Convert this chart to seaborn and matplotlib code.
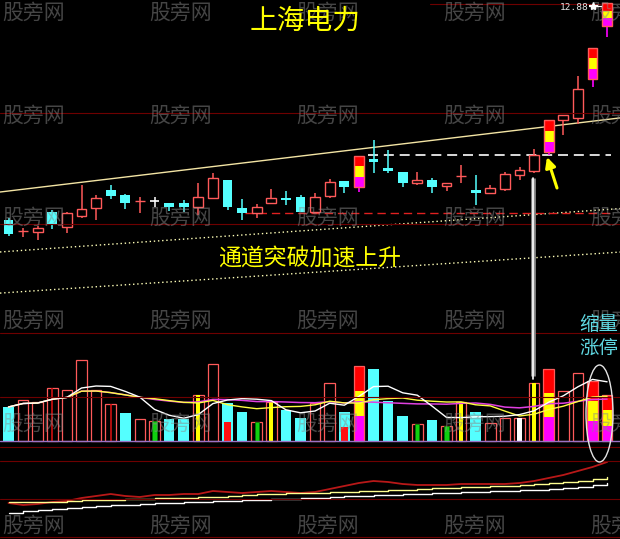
import numpy as np
import pandas as pd
import matplotlib
matplotlib.use('Agg')
import matplotlib.pyplot as plt
from matplotlib.patches import Ellipse
import seaborn as sns

sns.set_theme(style='dark')
plt.rcParams['font.family'] = ['Noto Sans CJK SC', 'DejaVu Sans']
plt.rcParams['axes.unicode_minus'] = False

# ---------------- data ----------------
opens = [7.32, 7.02, 7.00, 7.52, 7.13, 7.42, 7.63, 8.10, 7.97, 7.80,
         7.81, 7.76, 7.76, 7.65, 7.89, 8.36, 7.63, 7.50, 7.76, 7.89,
         7.91, 7.52, 7.94, 8.33, 8.17, 8.90, 8.67, 8.56, 8.28, 8.36,
         8.20, 8.45, 8.10, 8.02, 8.12, 8.49, 8.59, 9.08, 9.92, 9.97,
         10.98, 12.36]
highs = [7.37, 7.11, 7.16, 7.58, 7.52, 8.23, 7.97, 8.23, 7.99, 7.91,
         7.91, 7.76, 7.84, 8.28, 8.54, 8.36, 7.86, 7.73, 8.12, 8.07,
         7.97, 8.02, 8.38, 8.33, 8.98, 9.40, 9.14, 8.56, 8.56, 8.41,
         8.28, 8.75, 8.49, 8.23, 8.56, 8.69, 9.16, 9.91, 10.05, 11.06,
         11.79, 12.96]
lows = [6.90, 6.87, 6.80, 7.08, 6.98, 7.37, 7.32, 7.86, 7.60, 7.50,
        7.65, 7.55, 7.52, 7.45, 7.89, 7.58, 7.32, 7.37, 7.76, 7.71,
        7.52, 7.52, 7.89, 8.02, 8.04, 8.54, 8.54, 8.17, 8.23, 8.02,
        8.07, 8.28, 7.71, 8.02, 8.07, 8.36, 8.54, 9.01, 9.53, 9.81,
        10.77, 12.07]
closes = [6.95, 7.03, 7.11, 7.19, 7.50, 7.60, 7.89, 7.94, 7.76, 7.81,
          7.81, 7.65, 7.65, 7.91, 8.41, 7.65, 7.50, 7.65, 7.89, 7.84,
          7.52, 7.91, 8.30, 8.17, 8.98, 8.82, 8.59, 8.28, 8.36, 8.17,
          8.28, 8.46, 8.02, 8.15, 8.51, 8.62, 9.01, 9.91, 10.05, 10.72,
          11.79, 12.96]
limit_up = [24, 37, 40, 41]

volumes = [3.4, 4.1, 3.9, 5.3, 5.1, 8.1, 5.1, 3.7, 2.8, 2.2,
           2.0, 2.2, 2.2, 4.6, 7.7, 3.8, 2.9, 1.9, 3.9, 3.1,
           2.3, 3.8, 5.8, 2.9, 7.5, 7.2, 4.0, 2.5, 1.7, 2.1,
           1.5, 3.9, 2.9, 1.8, 2.3, 2.3, 5.8, 7.2, 5.0, 6.8,
           6.0, 4.6]
vol_kind = ['down', 'up', 'up', 'up', 'up', 'up', 'up', 'up', 'down', 'up',
            'up', 'down', 'down', 'up', 'up', 'down', 'down', 'up', 'up', 'down',
            'down', 'up', 'up', 'down', 'limit', 'down', 'down', 'down', 'up', 'down',
            'up', 'up', 'down', 'up', 'up', 'up', 'up', 'limit', 'up', 'up',
            'limit', 'limit']
vol_mark = {3: 'redline', 7: 'redline', 10: 'green', 13: 'yellow', 15: 'redfill',
            17: 'green', 18: 'yellow', 23: 'redfill', 28: 'green', 30: 'green',
            31: 'yellow', 35: 'white', 36: 'yellow'}

ind_red = [3.7, 3.5, 3.6, 3.8, 3.9, 4.2, 4.4, 4.6, 4.4, 4.3,
           4.5, 4.5, 4.6, 4.6, 4.9, 4.8, 4.7, 4.8, 4.9, 4.8,
           4.7, 4.8, 5.1, 5.4, 5.7, 5.9, 5.8, 5.6, 5.5, 5.5,
           5.5, 5.6, 5.6, 5.6, 5.6, 5.7, 5.9, 6.2, 6.5, 6.9,
           7.3, 7.8]
ind_yellow = [3.8, 3.8, 3.8, 3.8, 3.9, 4.0, 4.0, 4.0, 4.1, 4.1,
              4.2, 4.2, 4.2, 4.3, 4.3, 4.4, 4.5, 4.6, 4.6, 4.7,
              4.7, 4.7, 4.8, 4.8, 4.9, 4.9, 5.0, 5.0, 5.1, 5.2,
              5.2, 5.3, 5.3, 5.4, 5.4, 5.5, 5.6, 5.7, 5.8, 5.9,
              6.1, 6.3]
ind_white = [2.7, 2.9, 3.0, 3.1, 3.2, 3.3, 3.4, 3.5, 3.5, 3.6,
             3.7, 3.7, 3.8, 3.8, 3.9, 3.9, 4.0, 4.0, 4.1, 4.1,
             4.2, 4.2, 4.3, 4.4, 4.4, 4.5, 4.5, 4.6, 4.6, 4.7,
             4.7, 4.8, 4.8, 4.9, 4.9, 5.0, 5.0, 5.1, 5.2, 5.3,
             5.5, 5.7]

channel_upper = [8.07, 9.93]   # price at first / last candle
channel_mid = [6.50, 7.59]
channel_low = [5.43, 6.46]
resist_level = 9.01
support_level = 7.50

title = '上海电力'
note = '通道突破加速上升'
side_labels = ['缩量', '涨停']
high_label = '12.88'
watermark = '股旁网'

# ---------------- styling ----------------
RED = '#ff5a5a'
CYAN = '#54ffff'
MAG = '#ff00ff'
YEL = '#ffff00'
GRID = '#6e0000'

W, H = 620, 539
fig = plt.figure(figsize=(W / 100, H / 100), dpi=100, facecolor='black')


def px_axes(top, bottom):
    ax = fig.add_axes([0, 1 - bottom / H, 1, (bottom - top) / H])
    ax.set_facecolor('black')
    return ax


ax_p = px_axes(0, 345)
ax_v = px_axes(345, 447)
ax_i = px_axes(447, 539)
step = 14.6
xlim = (-8.5 / step, (W - 8.5) / step)
for ax in (ax_p, ax_v, ax_i):
    ax.set_xlim(*xlim)
    ax.set_axis_off()
ax_p.set_ylim(4.066, 13.036)
ax_v.set_ylim(-0.6, 9.6)
ax_i.set_ylim(0.1, 9.3)

n = len(closes)
x = np.arange(n)

# ---------------- price panel ----------------
xs = np.array(xlim)
last = n - 1
for (a, b), col, ls in [(channel_upper, '#f3e4a4', '-'),
                        (channel_mid, '#ffffb8', (0, (1, 2))),
                        (channel_low, '#ffffb8', (0, (1, 2)))]:
    slope = (b - a) / last
    sns.lineplot(x=xs, y=a + slope * xs, ax=ax_p, color=col, lw=1,
                 linestyle=ls, zorder=1)

ax_p.hlines(resist_level, 24.6, 41.3, color='white', lw=1.2,
            linestyles=[(0, (6, 3.5))], zorder=1)
ax_p.hlines(support_level, 16.2, 41.2, color='#e02020', lw=1.0,
            linestyles=[(0, (6, 3.5))], zorder=1)

bw = 0.68
for i in range(n):
    o, h, l, c = opens[i], highs[i], lows[i], closes[i]
    if i in limit_up:
        third = (c - o) / 3
        ax_p.vlines(i, l, o, color=MAG, lw=1.2, zorder=3)
        ax_p.bar(i, third, bottom=o, width=bw, color=MAG, lw=0, zorder=3)
        ax_p.bar(i, third, bottom=o + third, width=bw, color=YEL, lw=0, zorder=3)
        ax_p.bar(i, third, bottom=o + 2 * third, width=bw, color='#ff0000', lw=0, zorder=3)
        ax_p.bar(i, c - o, bottom=o, width=bw, facecolor='none',
                 edgecolor=RED, lw=1, zorder=4)
    elif c > o:
        ax_p.vlines(i, c, h, color=RED, lw=1.1, zorder=3)
        ax_p.vlines(i, l, o, color=RED, lw=1.1, zorder=3)
        ax_p.bar(i, c - o, bottom=o, width=bw, facecolor='black',
                 edgecolor=RED, lw=1, zorder=3)
    elif c < o:
        ax_p.vlines(i, l, h, color=CYAN, lw=1.1, zorder=3)
        ax_p.bar(i, o - c, bottom=c, width=bw, color=CYAN, lw=0, zorder=3)
    else:
        ax_p.vlines(i, l, h, color='white', lw=1.1, zorder=3)
        ax_p.hlines(c, i - bw / 2, i + bw / 2, color='white', lw=1.2, zorder=3)

# ---------------- volume panel ----------------
vbw = 0.72
for i in range(n):
    v = volumes[i]
    k = vol_kind[i]
    if k == 'down':
        ax_v.bar(i, v, width=vbw, color=CYAN, lw=0, zorder=2)
    elif k == 'up':
        ax_v.bar(i, v, width=vbw, facecolor='black', edgecolor=RED, lw=0.9, zorder=2)
    else:
        t = v / 3
        ax_v.bar(i, t, width=vbw, color=MAG, lw=0, zorder=2)
        ax_v.bar(i, t, bottom=t, width=vbw, color=YEL, lw=0, zorder=2)
        ax_v.bar(i, t, bottom=2 * t, width=vbw, color='#ff0000', lw=0, zorder=2)
        ax_v.bar(i, v, width=vbw, facecolor='none', edgecolor=RED, lw=0.9, zorder=2)
    m = vol_mark.get(i)
    if m == 'yellow':
        ax_v.bar(i, v, width=0.28, color=YEL, lw=0, zorder=3)
    elif m == 'green':
        ax_v.bar(i, v, width=0.3, color='#10d010', edgecolor='#007a00', lw=0.6, zorder=3)
    elif m == 'redfill':
        ax_v.bar(i, v * 0.5, width=0.5, color='#ff1010', lw=0, zorder=3)
    elif m == 'white':
        ax_v.bar(i, v, width=0.36, color='white', lw=0, zorder=3)
    elif m == 'redline':
        ax_v.vlines(i, 0, v, color='#d01010', lw=1.2, zorder=3)

ax_v.axhline(0, color='#9a72c4', lw=1, zorder=4)
vs = pd.Series(volumes)
sns.lineplot(x=x, y=vs.rolling(20, min_periods=1).mean().values, ax=ax_v,
             color='#e040e0', lw=1.1, zorder=5)
sns.lineplot(x=x, y=vs.rolling(10, min_periods=1).mean().values, ax=ax_v,
             color='#ffff40', lw=1.0, zorder=6)
sns.lineplot(x=x, y=vs.rolling(5, min_periods=1).mean().values, ax=ax_v,
             color='white', lw=1.0, zorder=7)

# ---------------- indicator panel ----------------
sns.lineplot(x=x, y=ind_red, ax=ax_i, color='#b81818', lw=1.3, zorder=3)
sns.lineplot(x=x, y=ind_yellow, ax=ax_i, color='#ffff90', lw=1.0,
             drawstyle='steps-post', zorder=4)
sns.lineplot(x=x, y=ind_white, ax=ax_i, color='white', lw=1.0,
             drawstyle='steps-post', zorder=4)

# ---------------- overlay (pixel coordinates) ----------------
ax_o = fig.add_axes([0, 0, 1, 1], zorder=10)
ax_o.set_xlim(0, W)
ax_o.set_ylim(H, 0)
ax_o.set_axis_off()

for yy, x0, x1 in [(4, 430, 600), (113, 0, W), (224, 0, W), (333, 0, W),
                   (397, 0, W), (447, 0, W), (461, 0, W), (499, 0, W), (537, 0, W)]:
    ax_o.plot([x0, x1], [yy, yy], color=GRID, lw=0.8, zorder=0)

# watermarks
for r in range(6):
    for c in range(5):
        ax_o.text(34 + 147 * c, 13 + 102.6 * r, watermark, color='#8a8a8a',
                  alpha=0.5, fontsize=15, ha='center', va='center', zorder=1)

ax_o.text(305, 21, title, color=YEL, fontsize=20, fontweight='light',
          ha='center', va='center', zorder=5)
ax_o.text(310, 258, note, color=YEL, fontsize=16.5, fontweight='light',
          ha='center', va='center', zorder=5)
ax_o.text(599, 325, side_labels[0], color='#5fd8e2', fontsize=14,
          ha='center', va='center', zorder=5)
ax_o.text(599, 348, side_labels[1], color='#5fd8e2', fontsize=14,
          ha='center', va='center', zorder=5)

ax_o.text(560, 7, high_label, color='#e6e6e6', fontsize=6.8,
          family='DejaVu Sans Mono', ha='left', va='center', zorder=5)
ax_o.plot([589, 601], [6, 6], color='white', lw=0.9, zorder=5)
ax_o.plot([593], [6], marker='*', color='white', ms=6, zorder=5)

# vertical pointer from breakout candle to volume
ax_o.plot([533, 533], [178, 376], color='#8c8c8c', lw=3.4, zorder=4,
          solid_capstyle='butt')
ax_o.plot([533, 533], [178, 379], color='white', lw=1.2, zorder=5)

# yellow arrow
ax_o.annotate('', xy=(547, 157), xytext=(557, 188),
              arrowprops=dict(arrowstyle='-|>', color=YEL, lw=2.2,
                              mutation_scale=15, shrinkA=0, shrinkB=0),
              zorder=6)

ax_o.add_patch(Ellipse((599.5, 413.5), 27, 97, fill=False,
                       edgecolor='#e4e4e4', lw=1, zorder=6))

fig.savefig('out.png', dpi=100, facecolor='black')
